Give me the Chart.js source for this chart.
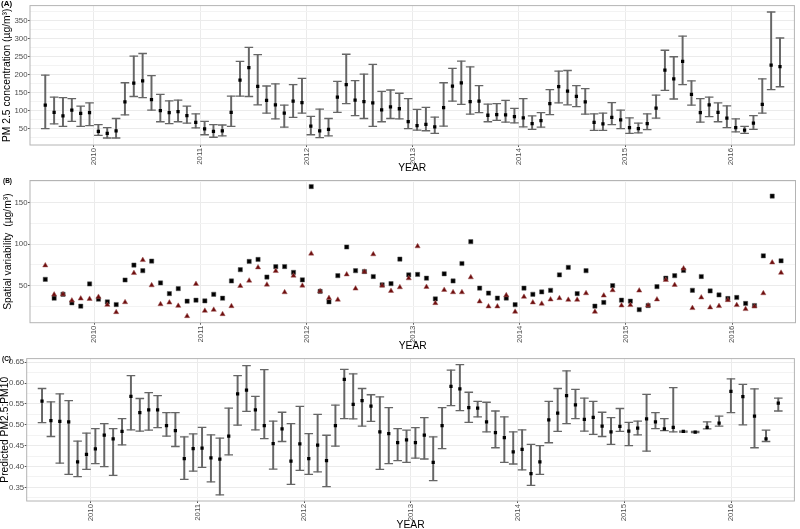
<!DOCTYPE html>
<html>
<head>
<meta charset="utf-8">
<script src="https://cdn.jsdelivr.net/npm/chart.js@4/dist/chart.umd.min.js"></script>
<style>
    html, body { margin: 0; padding: 0; background: #fff; width: 800px; height: 529px; overflow: hidden; }
    canvas { position: absolute; left: 0; }
    .tag { position: absolute; font-family: "Liberation Sans", Arial, sans-serif; font-weight: bold; color: #000; line-height: 1; }
</style>
</head>
<body>
<canvas id="chartA" width="800" height="176" style="top:0px"></canvas>
<canvas id="chartB" width="800" height="177" style="top:176px"></canvas>
<canvas id="chartC" width="800" height="180" style="top:353px"></canvas>
<div class="tag" style="left:1px;top:0px;font-size:8px">(A)</div>
<div class="tag" style="left:3px;top:178px;font-size:6.5px">(B)</div>
<div class="tag" style="left:2px;top:356px;font-size:6.5px">(C)</div>
<script>
// monthly series, Jul 2009 .. Jun 2016 (plotted mid-month)
const monthDates = Array.from({ length: 84 }, (_, i) => 2009 + (6 + i + 0.5) / 12);
const yearTicks = [2010, 2011, 2012, 2013, 2014, 2015, 2016];

// (A) PM2.5 concentration
const pm25Mean = [116, 96, 86, 102, 93, 95, 43, 38, 45, 125, 177, 183, 131, 101, 95, 98, 87, 68,
    50, 43, 45, 96, 185, 220, 168, 129, 117, 94, 127, 123, 58, 45, 49, 138, 173, 130, 126, 122,
    103, 111, 106, 70, 59, 63, 56, 109, 169, 178, 126, 127, 88, 90, 89, 84, 81, 65, 73, 120, 167,
    155, 140, 125, 68, 64, 82, 75, 54, 51, 65, 108, 213, 189, 237, 146, 95, 117, 96, 80, 54, 47,
    66, 118, 227, 223];
const pm25Low = [51, 64, 57, 71, 57, 59, 32, 25, 25, 89, 140, 137, 102, 70, 65, 70, 66, 53,
    34, 27, 31, 57, 141, 140, 117, 94, 78, 55, 82, 94, 34, 26, 31, 96, 120, 87, 79, 57,
    70, 79, 78, 51, 47, 45, 38, 58, 127, 118, 91, 95, 70, 74, 69, 67, 56, 49, 55, 90, 122,
    117, 112, 91, 46, 46, 62, 51, 38, 39, 48, 80, 157, 133, 173, 116, 69, 84, 70, 54, 42, 38,
    49, 94, 159, 167];
const pm25High = [199, 138, 137, 134, 113, 122, 62, 54, 79, 178, 252, 259, 198, 146, 128, 130, 113, 92,
    71, 62, 61, 141, 237, 276, 256, 169, 175, 116, 173, 190, 85, 105, 79, 182, 257, 184, 202, 229,
    154, 158, 149, 134, 104, 110, 83, 178, 218, 238, 222, 170, 119, 120, 129, 107, 134, 86, 95, 159, 210,
    212, 170, 162, 92, 94, 123, 102, 81, 66, 92, 144, 268, 250, 307, 183, 134, 138, 122, 114, 78, 57,
    87, 189, 374, 302];
const pm25Ticks = [50, 100, 150, 200, 250, 300, 350];
const pm25Minor = [25, 75, 125, 175, 225, 275, 325, 375];

// (B) spatial variability, two measures
const spatialSquares = [57.6, 34.8, 39.6, 29.2, 25.2, 52, 33.6, 30.4, 27.2, 56.8, 74.8, 68, 79.6, 53.2,
    40.4, 46.4, 31.2, 32.4, 31.6, 39.6, 34.8, 55.6, 69.2, 79.2, 81.6, 60.4, 72.8, 73, 66, 57, 169.5,
    43, 30.5, 62, 96.6, 68, 67, 61, 51, 52.4, 82, 63, 63.5, 59, 34, 64.3, 55.6, 76.7, 103, 47, 41,
    35, 35, 27, 47, 39.6, 42.4, 44.4, 63, 72, 40.4, 68, 25.3, 29.7, 50, 32.5, 31.3, 21, 26, 48.8,
    59, 62, 68.3, 44.4, 61, 43.6, 38.8, 34.5, 35.7, 28.5, 26, 86, 158, 80];
const spatialTriangles = [74.4, 39.2, 39.6, 32, 34.4, 34, 36.4, 26.8, 18, 30, 65.2, 80.8, 50.4, 27.6,
    29.6, 25.6, 13.2, 52, 19.6, 20.8, 15.6, 25.2, 49.6, 56, 72, 51.2, 67.6, 42, 62, 50, 88.6,
    43.2, 35, 33, 63.5, 46.4, 66.7, 87.8, 50, 43.6, 48, 58.8, 97.4, 48.4, 28.9, 44.8, 42, 42, 60,
    30.9, 24.9, 24.9, 38.4, 18.5, 36.5, 29.7, 28.1, 33.3, 34.9, 32.9, 32.9, 40.8, 18.5, 38, 44.4,
    26.1, 26.5, 44, 26.1, 33.3, 56.8, 50.8, 70.7, 22.9, 35.7, 23.7, 25.3, 32.5, 26.5, 21.7, 24.9,
    40.8, 77.9, 65.5];
const spatialTicks = [50, 100, 150];
const spatialMinor = [25, 75, 125, 175];

// (C) predicted PM2.5:PM10 ratio (monthly to Jun 2015, then sparser)
const ratioDates = monthDates.slice(0, 72).concat([2015.553, 2015.664, 2015.776, 2015.888,
    2015.999, 2016.111, 2016.220, 2016.328, 2016.443]);
const ratioMean = [0.557, 0.510, 0.508, 0.507, 0.411, 0.429, 0.442, 0.475, 0.466, 0.484, 0.568,
    0.529, 0.536, 0.536, 0.498, 0.486, 0.419, 0.443, 0.444, 0.421, 0.418, 0.473, 0.574, 0.583,
    0.536, 0.498, 0.455, 0.490, 0.413, 0.454, 0.419, 0.451, 0.414, 0.498, 0.609, 0.549, 0.558,
    0.545, 0.483, 0.479, 0.457, 0.464, 0.457, 0.475, 0.410, 0.498, 0.592, 0.586, 0.541, 0.540,
    0.507, 0.481, 0.469, 0.435, 0.441, 0.383, 0.411, 0.512, 0.528, 0.570, 0.548, 0.513, 0.518,
    0.497, 0.483, 0.496, 0.485, 0.492, 0.514, 0.507, 0.490, 0.494, 0.484, 0.4825, 0.494, 0.504,
    0.580, 0.5675, 0.521, 0.466, 0.552];
const ratioLow = [0.505, 0.472, 0.408, 0.381, 0.376, 0.393, 0.407, 0.400, 0.379, 0.452, 0.488,
    0.485, 0.487, 0.493, 0.473, 0.448, 0.369, 0.389, 0.398, 0.363, 0.332, 0.428, 0.499, 0.532,
    0.488, 0.467, 0.394, 0.460, 0.357, 0.391, 0.381, 0.387, 0.352, 0.449, 0.515, 0.514, 0.497,
    0.508, 0.393, 0.407, 0.414, 0.410, 0.420, 0.418, 0.366, 0.443, 0.546, 0.534, 0.506, 0.519,
    0.483, 0.445, 0.410, 0.406, 0.392, 0.355, 0.381, 0.457, 0.484, 0.503, 0.515, 0.485, 0.477,
    0.472, 0.453, 0.484, 0.450, 0.476, 0.437, 0.491, 0.486, 0.483, 0.4825, 0.481, 0.490, 0.497,
    0.529, 0.500, 0.445, 0.460, 0.533];
const ratioHigh = [0.587, 0.555, 0.574, 0.558, 0.461, 0.480, 0.491, 0.503, 0.491, 0.515, 0.618,
    0.563, 0.577, 0.570, 0.529, 0.529, 0.471, 0.478, 0.494, 0.476, 0.468, 0.540, 0.618, 0.642,
    0.568, 0.632, 0.509, 0.530, 0.503, 0.544, 0.479, 0.525, 0.475, 0.547, 0.633, 0.622, 0.587,
    0.572, 0.567, 0.541, 0.491, 0.487, 0.493, 0.517, 0.471, 0.541, 0.631, 0.644, 0.578, 0.556,
    0.554, 0.533, 0.519, 0.483, 0.488, 0.453, 0.450, 0.556, 0.587, 0.629, 0.585, 0.564, 0.556,
    0.530, 0.517, 0.539, 0.506, 0.509, 0.573, 0.529, 0.515, 0.589, 0.485, 0.484, 0.507, 0.521,
    0.610, 0.597, 0.586, 0.487, 0.564];
const ratioTicks = [0.35, 0.40, 0.45, 0.50, 0.55, 0.60, 0.65];
const ratioMinor = [0.325, 0.375, 0.425, 0.475, 0.525, 0.575, 0.625];

const FONT = '"Liberation Sans", Arial, sans-serif';
const xRange = { min: 2009.398, max: 2016.594 };
const barColor = "#666666";

const panelBorder = {
    id: "panelBorder",
    afterDatasetsDraw(chart) {
        const { ctx, chartArea: a } = chart;
        ctx.save();
        ctx.strokeStyle = "#b4b4b4";
        ctx.lineWidth = 1;
        ctx.strokeRect(a.left, a.top, a.right - a.left, a.bottom - a.top);
        ctx.restore();
    },
};

function xAxis(height, titlePad) {
    return {
        type: "linear",
        min: xRange.min,
        max: xRange.max,
        offset: false,
        afterBuildTicks: (s) => { s.ticks = yearTicks.map((v) => ({ value: v })); },
        afterFit: (s) => { s.height = height; s.paddingLeft = 0; s.paddingRight = 0; },
        grid: { color: "#ebebeb", offset: false, tickLength: 2, tickColor: "#555" },
        border: { display: false },
        ticks: {
            autoSkip: false, minRotation: 90, maxRotation: 90, padding: 1,
            color: "#4d4d4d", font: { family: FONT, size: 7.8 },
            callback: (v) => String(v),
        },
        title: {
            display: true, text: "YEAR", color: "#000",
            font: { family: FONT, size: 10.3 }, padding: { top: 0, bottom: titlePad },
        },
    };
}

function yAxis(o) {
    const all = o.major.concat(o.minor).sort((a, b) => a - b);
    return {
        type: "linear",
        min: o.min,
        max: o.max,
        beginAtZero: false,
        afterBuildTicks: (s) => { s.ticks = all.map((v) => ({ value: v })); },
        afterFit: (s) => { s.width = o.width; s.paddingTop = 0; s.paddingBottom = 0; },
        grid: {
            color: (c) => (c.tick && o.major.includes(c.tick.value) ? "#ebebeb" : "#f3f3f3"),
            tickLength: 2,
            tickColor: (c) => (c.tick && o.major.includes(c.tick.value) ? "#555" : "rgba(0,0,0,0)"),
        },
        border: { display: false },
        ticks: {
            autoSkip: false, padding: 0.5,
            color: "#4d4d4d", font: { family: FONT, size: 7.8 },
            callback: (v) => (o.major.includes(v) ? o.format(v) : ""),
        },
        title: {
            display: true, text: o.title, color: "#000",
            font: { family: FONT, size: 10.3 }, padding: { top: o.titlePad, bottom: 0 },
        },
    };
}

function errorBarDatasets(dates, mean, low, high) {
    return [
        {
            type: "bar",
            data: dates.map((x, i) => ({ x, y: [low[i], high[i]] })),
            backgroundColor: barColor,
            barThickness: 1.3,
            order: 3,
        },
        {
            type: "scatter",
            data: dates.map((x, i) => ({ x, y: high[i] })).concat(dates.map((x, i) => ({ x, y: low[i] }))),
            pointStyle: "line",
            pointRadius: 4.3,
            pointBorderColor: barColor,
            pointBorderWidth: 1.3,
            order: 2,
        },
        {
            type: "scatter",
            data: dates.map((x, i) => ({ x, y: mean[i] })),
            pointStyle: "rect",
            pointRadius: 2.3,
            pointBackgroundColor: "#000",
            pointBorderWidth: 0,
            order: 1,
        },
    ];
}

function baseOptions(pad, xa, ya) {
    return {
        responsive: false,
        animation: false,
        devicePixelRatio: 1,
        events: [],
        layout: { padding: pad },
        plugins: { legend: { display: false }, tooltip: { enabled: false } },
        scales: { x: xa, y: ya },
    };
}

new Chart(document.getElementById("chartA"), {
    type: "scatter",
    data: { datasets: errorBarDatasets(monthDates, pm25Mean, pm25Low, pm25High) },
    options: baseOptions({ top: 1, right: 1, left: 0, bottom: 0 }, xAxis(31, 2),
        yAxis({ min: 5.6, max: 391.7, major: pm25Ticks, minor: pm25Minor, width: 30, titlePad: 1.3,
            title: "PM 2.5 concentration (µg/m³)", format: (v) => String(v) })),
    plugins: [panelBorder],
});

new Chart(document.getElementById("chartB"), {
    type: "scatter",
    data: {
        datasets: [
            {
                data: monthDates.map((x, i) => ({ x, y: spatialSquares[i] })),
                pointStyle: "rect", pointRadius: 3, pointBackgroundColor: "#000",
                pointBorderColor: "#555", pointBorderWidth: 0.5, order: 2,
            },
            {
                data: monthDates.map((x, i) => ({ x, y: spatialTriangles[i] })),
                pointStyle: "triangle", pointRadius: 3, pointBackgroundColor: "#6e0d0d",
                pointBorderColor: "#a05a5a", pointBorderWidth: 0.5, order: 1,
            },
        ],
    },
    options: baseOptions({ top: 3.3, right: 1, left: 0, bottom: 0 }, xAxis(30.3, 0.8),
        yAxis({ min: 5.3, max: 176.8, major: spatialTicks, minor: spatialMinor, width: 30, titlePad: 2,
            title: "Spatial variability  (µg/m³)", format: (v) => String(v) })),
    plugins: [panelBorder],
});

new Chart(document.getElementById("chartC"), {
    type: "scatter",
    data: { datasets: errorBarDatasets(ratioDates, ratioMean, ratioLow, ratioHigh) },
    options: baseOptions({ top: 4.7, right: 0.7, left: 0, bottom: 0 }, xAxis(32, 1.8),
        yAxis({ min: 0.3174, max: 0.6586, major: ratioTicks, minor: ratioMinor, width: 26.7, titlePad: -1.5,
            title: "Predicted PM2.5:PM10", format: (v) => v.toFixed(2) })),
    plugins: [panelBorder],
});
</script>
</body>
</html>
